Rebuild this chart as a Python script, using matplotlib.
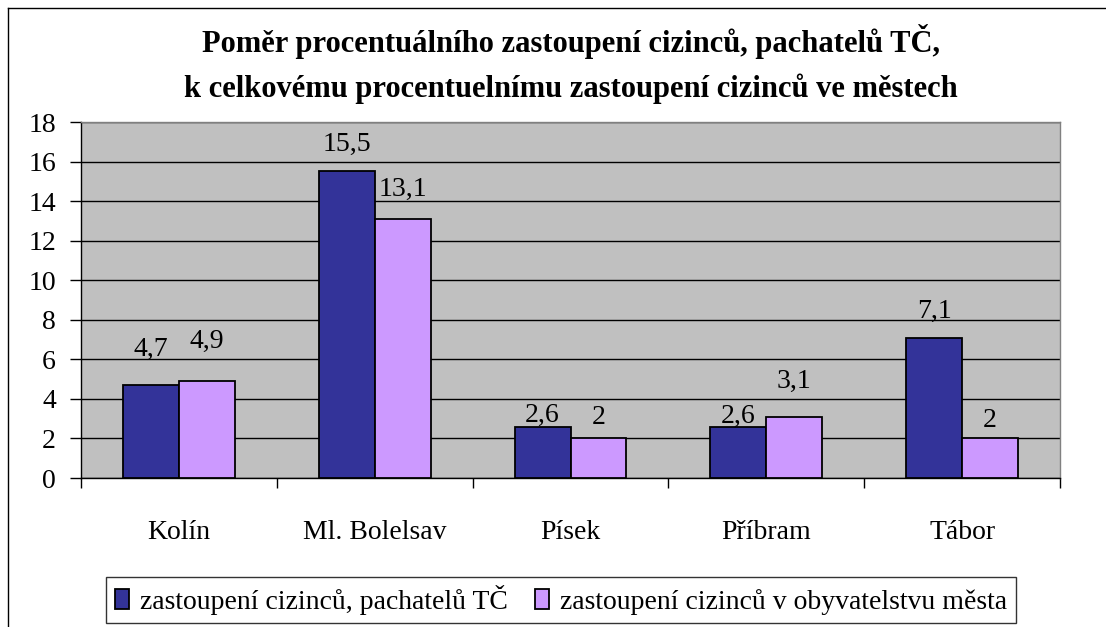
import numpy as np
import matplotlib
matplotlib.use("Agg")
import matplotlib.pyplot as plt
from matplotlib.lines import Line2D

plt.rcParams["font.family"] = ["Liberation Serif", "DejaVu Serif"]

cities = ["Kolín", "Ml. Bolelsav", "Písek", "Příbram", "Tábor"]
offenders = [4.7, 15.5, 2.6, 2.6, 7.1]
population = [4.9, 13.1, 2.0, 3.1, 2.0]
series_names = ["zastoupení cizinců, pachatelů TČ",
                "zastoupení cizinců v obyvatelstvu města"]
title = ("Poměr procentuálního zastoupení cizinců, pachatelů TČ,\n"
         "k celkovému procentuelnímu zastoupení cizinců ve městech")

# gap (px) between bar top and label baseline, as placed in the original
gap_offenders = [29, 21, 5, 4, 20]
gap_population = [33, 23, 14, 29, 11]

W, H = 1106, 627
FS = 20
fig = plt.figure(figsize=(W / 100, H / 100), dpi=100)
fig.patch.set_facecolor("white")

# plot area in pixels
x0, x1, ytop, ybot = 81, 1060, 122, 478
ax = fig.add_axes([x0 / W, 1 - ybot / H, (x1 - x0) / W, (ybot - ytop) / H])
ax.set_facecolor("#C0C0C0")

x = np.arange(len(cities))
w = 1 / 3.5
b1 = ax.bar(x - w / 2, offenders, w, color="#333399", edgecolor="black",
            linewidth=1.3, zorder=3, label=series_names[0])
b2 = ax.bar(x + w / 2, population, w, color="#CC99FF", edgecolor="black",
            linewidth=1.3, zorder=3, label=series_names[1])


def fmt(v):
    return ("%g" % v).replace(".", ",")


for bars, vals, gaps in ((b1, offenders, gap_offenders),
                         (b2, population, gap_population)):
    for r, v, g in zip(bars, vals, gaps):
        ax.annotate(fmt(v), (r.get_x() + r.get_width() / 2, v),
                    xytext=(0, g * 0.72), textcoords="offset points",
                    ha="center", va="baseline", fontsize=FS, zorder=4)

ax.set_xlim(-0.5, len(cities) - 0.5)
ax.set_ylim(0, 18)
ax.set_yticks(np.arange(0, 19, 2))
ax.yaxis.grid(True, color="black", linewidth=1, zorder=1)
ax.set_axisbelow(True)

ax.set_xticks(x)
ax.set_xticklabels(cities, fontsize=FS)
ax.tick_params(axis="x", which="major", length=0, pad=30)
ax.set_xticks(np.arange(-0.5, len(cities), 1), minor=True)
ax.tick_params(axis="x", which="minor", length=7, width=1, direction="out")
ax.tick_params(axis="y", labelsize=FS, length=8, width=1, direction="out", pad=10)

for s in ("top", "right"):
    ax.spines[s].set_color("#808080")
    ax.spines[s].set_linewidth(1)
for s in ("left", "bottom"):
    ax.spines[s].set_color("black")
    ax.spines[s].set_linewidth(1)

fig.text((x0 + x1) / 2 / W, 1 - 64 / H, title, ha="center", va="center",
         fontsize=22, fontweight="bold", linespacing=1.6)

leg = fig.legend(handles=[b1, b2], loc="center",
                 bbox_to_anchor=(561 / W, 1 - 600 / H),
                 ncol=2, frameon=True, fancybox=False, fontsize=FS,
                 handlelength=0.5, handleheight=0.75, handletextpad=0.4,
                 columnspacing=1.0, borderpad=0.3, borderaxespad=0)
leg.get_frame().set_edgecolor("black")
leg.get_frame().set_linewidth(1)

# chart area border (left and top visible)
fig.add_artist(Line2D([8 / W, 8 / W], [0, 1 - 8 / H], color="black", linewidth=1,
                      transform=fig.transFigure))
fig.add_artist(Line2D([8 / W, 1], [1 - 8 / H, 1 - 8 / H], color="black", linewidth=1,
                      transform=fig.transFigure))

fig.savefig("out.png", dpi=100)
